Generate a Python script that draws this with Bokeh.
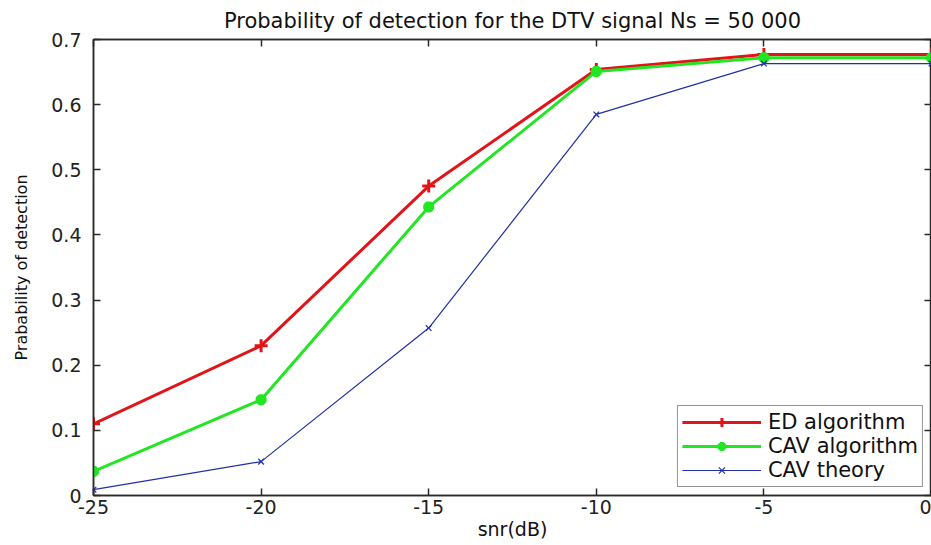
from bokeh.plotting import figure
from bokeh.models import LinearAxis, Range1d, FixedTicker, Legend
from bokeh.embed import file_html
from bokeh.resources import INLINE

snr = [-25, -20, -15, -10, -5, 0]
ed_algorithm = [0.110, 0.230, 0.475, 0.654, 0.677, 0.677]
cav_algorithm = [0.037, 0.147, 0.443, 0.651, 0.672, 0.672]
cav_theory = [0.009, 0.052, 0.257, 0.585, 0.663, 0.663]

x_ticks = [-25, -20, -15, -10, -5, 0]
y_ticks = [0, 0.1, 0.2, 0.3, 0.4, 0.5, 0.6, 0.7]
x_tick_labels = ["-25", "-20", "-15", "-10", "-5", "0"]
y_tick_labels = ["0", "0.1", "0.2", "0.3", "0.4", "0.5", "0.6", "0.7"]

FONT = "DejaVu Sans"
AX = "#2a2a2a"

p = figure(width=931, height=544, output_backend="svg", toolbar_location=None,
           x_range=Range1d(-25, 0), y_range=Range1d(0, 0.7),
           min_border_left=93, min_border_right=0, min_border_top=38, min_border_bottom=49,
           title="Probability of detection for the DTV signal Ns = 50 000")
p.title.align = "center"
p.title.text_font = FONT
p.title.text_font_style = "normal"
p.title.text_font_size = "21px"
p.title.text_color = "#111111"
p.title.offset = 0
p.title.standoff = 13

p.xgrid.visible = False
p.ygrid.visible = False
p.outline_line_color = AX
p.outline_line_width = 1.5

for ax, ticks in ((p.xaxis[0], x_ticks), (p.yaxis[0], y_ticks)):
    ax.ticker = FixedTicker(ticks=ticks)
    ax.major_tick_in = 7
    ax.major_tick_out = 0
    ax.minor_tick_in = 0
    ax.minor_tick_out = 0
    ax.axis_line_color = AX
    ax.axis_line_width = 1.5
    ax.major_tick_line_color = AX
    ax.major_tick_line_width = 1.5
    ax.major_label_text_font = FONT
    ax.major_label_text_font_size = "19px"
    ax.major_label_text_color = "#222222"
    ax.axis_label_text_font = FONT
    ax.axis_label_text_font_style = "normal"
    ax.axis_label_text_color = "#111111"

p.xaxis[0].major_label_overrides = dict(zip(x_ticks, x_tick_labels))
p.yaxis[0].major_label_overrides = dict(zip(y_ticks, y_tick_labels))
p.xaxis[0].axis_label = "snr(dB)"
p.xaxis[0].axis_label_text_font_size = "19px"
p.xaxis[0].major_label_standoff = 4
p.xaxis[0].axis_label_standoff = 1
p.yaxis[0].axis_label = "Prabability of detection"
p.yaxis[0].axis_label_text_font_size = "16px"
p.yaxis[0].major_label_standoff = 12
p.yaxis[0].axis_label_standoff = 17

top = LinearAxis(ticker=FixedTicker(ticks=x_ticks), major_tick_in=7, major_tick_out=0,
                 minor_tick_in=0, minor_tick_out=0, major_label_text_color=None,
                 axis_line_color=AX, major_tick_line_color=AX,
                 axis_line_width=1.5, major_tick_line_width=1.5)
right = LinearAxis(ticker=FixedTicker(ticks=y_ticks), major_tick_in=7, major_tick_out=0,
                   minor_tick_in=0, minor_tick_out=0, major_label_text_color=None,
                   axis_line_color=AX, major_tick_line_color=AX,
                   axis_line_width=1.5, major_tick_line_width=1.5)
p.add_layout(top, "above")
p.add_layout(right, "right")

r1l = p.line(snr, ed_algorithm, line_color="#e31419", line_width=3)
r1m = p.scatter(snr, ed_algorithm, marker="cross", size=13, line_color="#e31419", line_width=3)
r2l = p.line(snr, cav_algorithm, line_color="#22e622", line_width=3)
r2m = p.scatter(snr, cav_algorithm, marker="asterisk", size=11, line_color="#22e622",
                line_width=4)
r3l = p.line(snr, cav_theory, line_color="#2030a8", line_width=1.2)
r3m = p.scatter(snr, cav_theory, marker="x", size=8, line_color="#2030a8", line_width=1.2)

legend = Legend(items=[("ED algorithm", [r1l, r1m]),
                       ("CAV algorithm", [r2l, r2m]),
                       ("CAV theory", [r3l, r3m])],
                location="bottom_right")
legend.label_text_font = FONT
legend.label_text_font_size = "21px"
legend.label_text_color = "#111111"
legend.glyph_width = 79
legend.glyph_height = 22
legend.label_height = 22
legend.label_standoff = 7
legend.spacing = 0
legend.padding = 4
legend.margin = 8
legend.border_line_color = AX
legend.border_line_width = 1.5
legend.background_fill_alpha = 1
p.add_layout(legend, "center")

open("out.html", "w").write(file_html(p, INLINE))
